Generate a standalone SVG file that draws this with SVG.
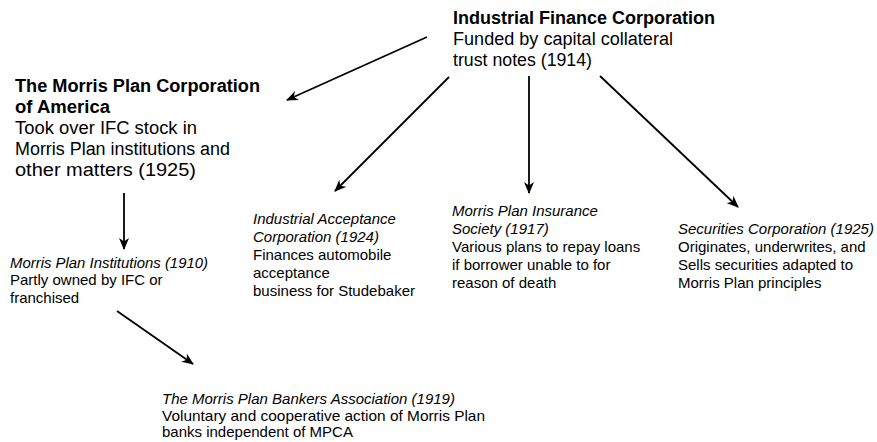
<svg xmlns="http://www.w3.org/2000/svg" width="877" height="442" viewBox="0 0 877 442">
  <defs>
    <marker id="arrow" viewBox="0 0 12 10" refX="11" refY="5" markerWidth="12" markerHeight="10" markerUnits="userSpaceOnUse" orient="auto">
      <path d="M0,0 L12,5 L0,10 L3.5,5 z" fill="#000"/>
    </marker>
    <style>
      text { font-family: "Liberation Sans", Arial, sans-serif; fill: #000; }
      .title { font-size: 18px; font-weight: bold; }
      .big { font-size: 18px; }
      .name { font-size: 15px; font-style: italic; }
      .desc { font-size: 15px; }
      .conn line { stroke: #000; stroke-width: 1.8; fill: none; marker-end: url(#arrow); }
    </style>
  </defs>
  <rect width="877" height="442" fill="#fff"/>

  <g id="ifc">
    <text class="title" x="453" y="24" textLength="262" lengthAdjust="spacingAndGlyphs">Industrial Finance Corporation</text>
    <text class="big" x="453" y="45" textLength="220" lengthAdjust="spacingAndGlyphs">Funded by capital collateral</text>
    <text class="big" x="453" y="66" textLength="139" lengthAdjust="spacingAndGlyphs">trust notes (1914)</text>
  </g>

  <g id="mpca">
    <text class="title" x="15" y="92" textLength="245" lengthAdjust="spacingAndGlyphs">The Morris Plan Corporation</text>
    <text class="title" x="15" y="113" textLength="95" lengthAdjust="spacingAndGlyphs">of America</text>
    <text class="big" x="15" y="134" textLength="182" lengthAdjust="spacingAndGlyphs">Took over IFC stock in</text>
    <text class="big" x="15" y="155" textLength="215" lengthAdjust="spacingAndGlyphs">Morris Plan institutions and</text>
    <text class="big" x="15" y="176" textLength="181" lengthAdjust="spacingAndGlyphs">other matters (1925)</text>
  </g>

  <g id="institutions">
    <text class="name" x="10" y="268" textLength="198" lengthAdjust="spacingAndGlyphs">Morris Plan Institutions (1910)</text>
    <text class="desc" x="10" y="285">Partly owned by IFC or</text>
    <text class="desc" x="10" y="303">franchised</text>
  </g>

  <g id="acceptance">
    <text class="name" x="253" y="224">Industrial Acceptance</text>
    <text class="name" x="253" y="242">Corporation (1924)</text>
    <text class="desc" x="253" y="260">Finances automobile</text>
    <text class="desc" x="253" y="278">acceptance</text>
    <text class="desc" x="253" y="296" textLength="162" lengthAdjust="spacingAndGlyphs">business for Studebaker</text>
  </g>

  <g id="insurance">
    <text class="name" x="452" y="216">Morris Plan Insurance</text>
    <text class="name" x="452" y="234">Society (1917)</text>
    <text class="desc" x="452" y="252">Various plans to repay loans</text>
    <text class="desc" x="452" y="270">if borrower unable to for</text>
    <text class="desc" x="452" y="288">reason of death</text>
  </g>

  <g id="securities">
    <text class="name" x="678" y="234">Securities Corporation (1925)</text>
    <text class="desc" x="678" y="252">Originates, underwrites, and</text>
    <text class="desc" x="678" y="270">Sells securities adapted to</text>
    <text class="desc" x="678" y="288">Morris Plan principles</text>
  </g>

  <g id="bankers">
    <text class="name" x="162" y="404">The Morris Plan Bankers Association (1919)</text>
    <text class="desc" x="162" y="421" textLength="323" lengthAdjust="spacingAndGlyphs">Voluntary and cooperative action of Morris Plan</text>
    <text class="desc" x="162" y="437">banks independent of MPCA</text>
  </g>

  <g id="connectors" class="conn">
    <line x1="427" y1="37" x2="287" y2="100"/>
    <line x1="449" y1="77" x2="335" y2="191"/>
    <line x1="529" y1="76" x2="529" y2="193"/>
    <line x1="600" y1="76" x2="738" y2="207"/>
    <line x1="124" y1="193" x2="124" y2="249"/>
    <line x1="117" y1="311" x2="193" y2="364"/>
  </g>
</svg>
